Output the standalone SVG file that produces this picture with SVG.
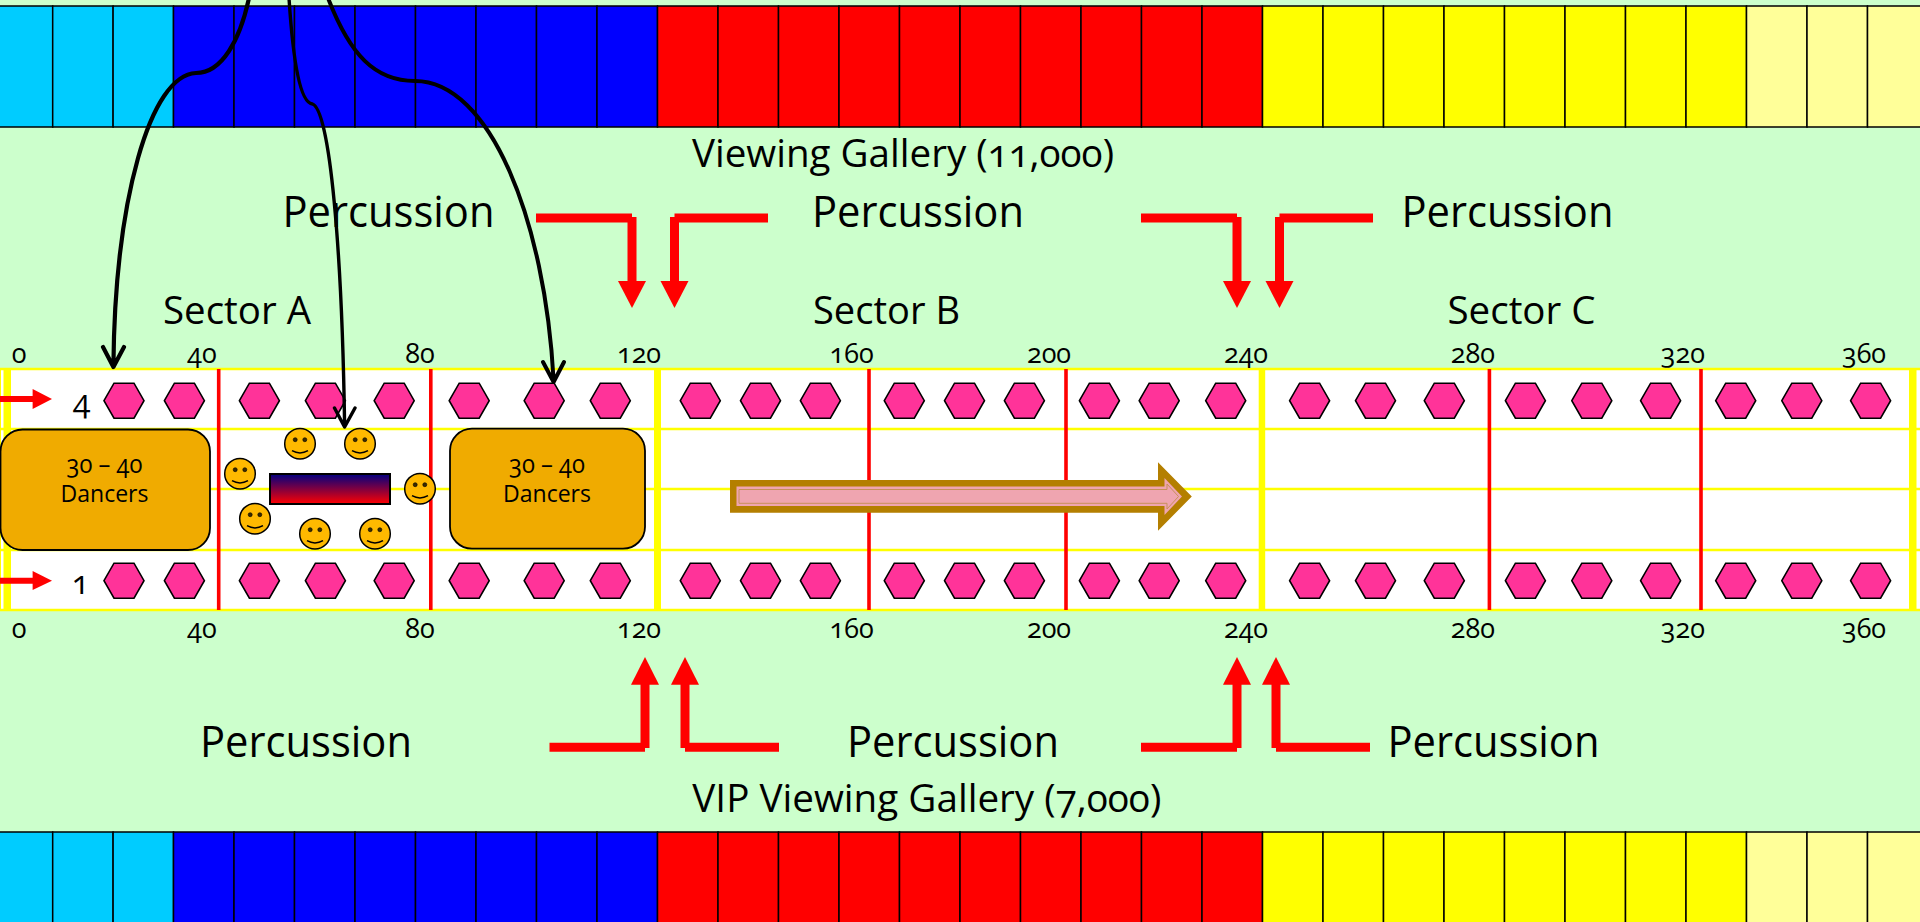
<svg xmlns="http://www.w3.org/2000/svg" width="1920" height="922" viewBox="0 0 1920 922">
<style>
text{font-family:"Open Sans","Noto Sans","Liberation Sans",sans-serif;fill:#000;font-feature-settings:"onum" 1;font-variant-numeric:oldstyle-nums}
.big{font-size:43.5px}.mid{font-size:37.5px}.num{font-size:27px;text-anchor:middle}.dn{font-size:23px;text-anchor:middle}.dg{font-size:25px;text-anchor:middle}.row{font-size:32px;text-anchor:middle}
.cell{stroke:#000;stroke-width:1.5}.c{fill:#00CCFF}.b{fill:#0000FF}.r{fill:#FF0000}.y{fill:#FFFF00}.p{fill:#FFFF99}
.yl{stroke:#FFFF00;stroke-width:2.6;fill:none}.yt{fill:#FFFF00}.rv{stroke:#FF0000;stroke-width:3.6}
.re{stroke:#FF0000;stroke-width:9;fill:none}.rh{fill:#FF0000}
.cv{stroke:#000;fill:none;stroke-linecap:round;stroke-linejoin:round}
.dan{fill:#F0AB00;stroke:#000;stroke-width:1.8}
</style>
<defs>
<polygon id="hex" points="-20,0 -10,-17.5 10,-17.5 20,0 10,17.5 -10,17.5" fill="#FF3399" stroke="#000" stroke-width="1.6"/>
<g id="smile"><circle r="15.3" fill="#FFB900" stroke="#000" stroke-width="1.5"/><circle cx="-4.8" cy="-4" r="2" fill="#3a2a00" stroke="#000" stroke-width=".6"/><circle cx="4.8" cy="-4" r="2" fill="#3a2a00" stroke="#000" stroke-width=".6"/><path d="M-8,7 Q0,11.5 8,7" fill="none" stroke="#000" stroke-width="1.5"/></g>
<linearGradient id="grad" x1="0" y1="0" x2="0" y2="1"><stop offset="0" stop-color="#000080"/><stop offset="1" stop-color="#FF0000"/></linearGradient>
<g id="band">
<rect class="cell c" x="-2" y="0" width="54.7" height="121"/><rect class="cell c" x="52.7" y="0" width="60.4" height="121"/><rect class="cell c" x="113.1" y="0" width="60.4" height="121"/>
<rect class="cell b" x="173.5" y="0" width="60.5" height="121"/><rect class="cell b" x="234" y="0" width="60.5" height="121"/><rect class="cell b" x="294.5" y="0" width="60.5" height="121"/><rect class="cell b" x="355" y="0" width="60.5" height="121"/><rect class="cell b" x="415.5" y="0" width="60.5" height="121"/><rect class="cell b" x="476" y="0" width="60.5" height="121"/><rect class="cell b" x="536.5" y="0" width="60.5" height="121"/><rect class="cell b" x="597" y="0" width="60.5" height="121"/>
<rect class="cell r" x="657.5" y="0" width="60.5" height="121"/><rect class="cell r" x="718" y="0" width="60.5" height="121"/><rect class="cell r" x="778.5" y="0" width="60.5" height="121"/><rect class="cell r" x="839" y="0" width="60.5" height="121"/><rect class="cell r" x="899.5" y="0" width="60.5" height="121"/><rect class="cell r" x="960" y="0" width="60.5" height="121"/><rect class="cell r" x="1020.5" y="0" width="60.5" height="121"/><rect class="cell r" x="1081" y="0" width="60.5" height="121"/><rect class="cell r" x="1141.5" y="0" width="60.5" height="121"/><rect class="cell r" x="1202" y="0" width="60.5" height="121"/>
<rect class="cell y" x="1262.5" y="0" width="60.5" height="121"/><rect class="cell y" x="1323" y="0" width="60.5" height="121"/><rect class="cell y" x="1383.5" y="0" width="60.5" height="121"/><rect class="cell y" x="1444" y="0" width="60.5" height="121"/><rect class="cell y" x="1504.5" y="0" width="60.5" height="121"/><rect class="cell y" x="1565" y="0" width="60.5" height="121"/><rect class="cell y" x="1625.5" y="0" width="60.5" height="121"/><rect class="cell y" x="1686" y="0" width="60.5" height="121"/>
<rect class="cell p" x="1746.5" y="0" width="60.5" height="121"/><rect class="cell p" x="1807" y="0" width="60.5" height="121"/><rect class="cell p" x="1867.5" y="0" width="60.5" height="121"/>
</g>
</defs>
<rect width="1920" height="922" fill="#CCFFCC"/>
<g id="top-seating"><use href="#band" y="6"/></g>
<g id="bottom-seating"><use href="#band" y="832"/></g>
<g id="track">
<rect x="0" y="369" width="1920" height="241" fill="#FFFFFF"/>
<path class="yl" d="M0,369H1920M0,429H1920M0,489H1920M0,550H1920M0,610H1920"/>
<rect class="yt" x="0" y="369" width="1" height="241"/><rect class="yt" x="3.5" y="369" width="7.5" height="241"/>
<rect class="yt" x="654" y="369" width="7" height="241"/><rect class="yt" x="1258.7" y="369" width="6.5" height="241"/><rect class="yt" x="1909" y="369" width="7.5" height="241"/>
<path class="rv" d="M218.7,369V610M430.8,369V610M869,369V610M1066,369V610M1489.4,369V610M1701,369V610"/>
</g>
<g id="scale-labels">
<text class="num" x="19" y="362.5">0</text><text class="num" x="202" y="362.5">40</text><text class="num" x="420" y="362.5">80</text><text class="num" x="639" y="362.5">120</text><text class="num" x="851.6" y="362.5">160</text><text class="num" x="1049" y="362.5">200</text><text class="num" x="1246" y="362.5">240</text><text class="num" x="1472.8" y="362.5">280</text><text class="num" x="1682.8" y="362.5">320</text><text class="num" x="1864" y="362.5">360</text>
<text class="num" x="19" y="638.3">0</text><text class="num" x="202" y="638.3">40</text><text class="num" x="420" y="638.3">80</text><text class="num" x="639" y="638.3">120</text><text class="num" x="851.6" y="638.3">160</text><text class="num" x="1049" y="638.3">200</text><text class="num" x="1246" y="638.3">240</text><text class="num" x="1472.8" y="638.3">280</text><text class="num" x="1682.8" y="638.3">320</text><text class="num" x="1864" y="638.3">360</text>
</g>
<g id="headings">
<text class="mid" x="692" y="166.7" textLength="422" lengthAdjust="spacingAndGlyphs">Viewing Gallery (11,000)</text>
<text class="mid" x="692.3" y="811.7" textLength="469" lengthAdjust="spacingAndGlyphs">VIP Viewing Gallery (7,000)</text>
<text class="mid" x="163" y="324" textLength="148" lengthAdjust="spacingAndGlyphs">Sector A</text>
<text class="mid" x="813" y="324" textLength="147" lengthAdjust="spacingAndGlyphs">Sector B</text>
<text class="mid" x="1447.5" y="324" textLength="148" lengthAdjust="spacingAndGlyphs">Sector C</text>
</g>
<g id="percussion-labels">
<text class="big" x="282.5" y="226.5" textLength="212" lengthAdjust="spacingAndGlyphs">Percussion</text>
<text class="big" x="812" y="226.5" textLength="212" lengthAdjust="spacingAndGlyphs">Percussion</text>
<text class="big" x="1401.5" y="226.5" textLength="212" lengthAdjust="spacingAndGlyphs">Percussion</text>
<text class="big" x="200" y="756.7" textLength="212" lengthAdjust="spacingAndGlyphs">Percussion</text>
<text class="big" x="847" y="756.7" textLength="212" lengthAdjust="spacingAndGlyphs">Percussion</text>
<text class="big" x="1387.5" y="756.7" textLength="212" lengthAdjust="spacingAndGlyphs">Percussion</text>
</g>
<g id="row-labels"><text class="row" x="81.7" y="413">4</text><text class="row" x="80.4" y="594">1</text></g>
<g id="hex-top">
<g id="t1"><use href="#hex" x="124" y="400.7"/></g><g id="t2"><use href="#hex" x="184.4" y="400.7"/></g><g id="t3"><use href="#hex" x="259.4" y="400.7"/></g><g id="t4"><use href="#hex" x="325.4" y="400.7"/></g><g id="t5"><use href="#hex" x="394.2" y="400.7"/></g><g id="t6"><use href="#hex" x="469.2" y="400.7"/></g><g id="t7"><use href="#hex" x="544.2" y="400.7"/></g><g id="t8"><use href="#hex" x="610.3" y="400.7"/></g><g id="t9"><use href="#hex" x="700.3" y="400.7"/></g><g id="t10"><use href="#hex" x="760.5" y="400.7"/></g><g id="t11"><use href="#hex" x="820.4" y="400.7"/></g><g id="t12"><use href="#hex" x="904.3" y="400.7"/></g><g id="t13"><use href="#hex" x="964.5" y="400.7"/></g><g id="t14"><use href="#hex" x="1024.4" y="400.7"/></g><g id="t15"><use href="#hex" x="1099.4" y="400.7"/></g><g id="t16"><use href="#hex" x="1159.2" y="400.7"/></g><g id="t17"><use href="#hex" x="1225.7" y="400.7"/></g><g id="t18"><use href="#hex" x="1309.6" y="400.7"/></g><g id="t19"><use href="#hex" x="1375.5" y="400.7"/></g><g id="t20"><use href="#hex" x="1444.3" y="400.7"/></g><g id="t21"><use href="#hex" x="1525.4" y="400.7"/></g><g id="t22"><use href="#hex" x="1591.8" y="400.7"/></g><g id="t23"><use href="#hex" x="1660.6" y="400.7"/></g><g id="t24"><use href="#hex" x="1735.7" y="400.7"/></g><g id="t25"><use href="#hex" x="1801.8" y="400.7"/></g><g id="t26"><use href="#hex" x="1870.6" y="400.7"/></g>
</g>
<g id="hex-bottom">
<g id="b1"><use href="#hex" x="124" y="580.7"/></g><g id="b2"><use href="#hex" x="184.4" y="580.7"/></g><g id="b3"><use href="#hex" x="259.4" y="580.7"/></g><g id="b4"><use href="#hex" x="325.4" y="580.7"/></g><g id="b5"><use href="#hex" x="394.2" y="580.7"/></g><g id="b6"><use href="#hex" x="469.2" y="580.7"/></g><g id="b7"><use href="#hex" x="544.2" y="580.7"/></g><g id="b8"><use href="#hex" x="610.3" y="580.7"/></g><g id="b9"><use href="#hex" x="700.3" y="580.7"/></g><g id="b10"><use href="#hex" x="760.5" y="580.7"/></g><g id="b11"><use href="#hex" x="820.4" y="580.7"/></g><g id="b12"><use href="#hex" x="904.3" y="580.7"/></g><g id="b13"><use href="#hex" x="964.5" y="580.7"/></g><g id="b14"><use href="#hex" x="1024.4" y="580.7"/></g><g id="b15"><use href="#hex" x="1099.4" y="580.7"/></g><g id="b16"><use href="#hex" x="1159.2" y="580.7"/></g><g id="b17"><use href="#hex" x="1225.7" y="580.7"/></g><g id="b18"><use href="#hex" x="1309.6" y="580.7"/></g><g id="b19"><use href="#hex" x="1375.5" y="580.7"/></g><g id="b20"><use href="#hex" x="1444.3" y="580.7"/></g><g id="b21"><use href="#hex" x="1525.4" y="580.7"/></g><g id="b22"><use href="#hex" x="1591.8" y="580.7"/></g><g id="b23"><use href="#hex" x="1660.6" y="580.7"/></g><g id="b24"><use href="#hex" x="1735.7" y="580.7"/></g><g id="b25"><use href="#hex" x="1801.8" y="580.7"/></g><g id="b26"><use href="#hex" x="1870.6" y="580.7"/></g>
</g>
<g id="dancers-1"><rect class="dan" x="0.5" y="429.5" width="209.5" height="120.5" rx="22"/><text class="dg" x="104.5" y="473" textLength="76" lengthAdjust="spacingAndGlyphs">30 – 40</text><text class="dn" x="104.5" y="501.5" textLength="88" lengthAdjust="spacingAndGlyphs">Dancers</text></g>
<g id="dancers-2"><rect class="dan" x="450" y="428.7" width="195" height="120" rx="22"/><text class="dg" x="547" y="473" textLength="76" lengthAdjust="spacingAndGlyphs">30 – 40</text><text class="dn" x="547" y="501.5" textLength="88" lengthAdjust="spacingAndGlyphs">Dancers</text></g>
<g id="stage"><rect x="270" y="474" width="120" height="30" fill="url(#grad)" stroke="#000" stroke-width="2"/></g>
<g id="smileys">
<use href="#smile" x="300" y="443.7"/><use href="#smile" x="360" y="443.7"/><use href="#smile" x="240" y="473.7"/><use href="#smile" x="420" y="488.7"/><use href="#smile" x="255" y="518.7"/><use href="#smile" x="315" y="533.7"/><use href="#smile" x="375" y="533.7"/>
</g>
<g id="parade-arrow">
<polygon points="730,480 1158,480 1158,462.3 1191.8,496.5 1158,530.7 1158,512.7 730,512.7" fill="#B47F00"/>
<polygon points="736.5,486.5 1164.5,486.5 1164.5,478 1182,496.5 1164.5,515 1164.5,506 736.5,506" fill="#EFA5B0"/>
<polygon points="739,489.5 1167,489.5 1167,484 1178.5,496.5 1167,509 1167,503.3 739,503.3" fill="#EFA5B0" stroke="#C8905A" stroke-width="1"/>
</g>
<g id="connectors">
<path class="re" d="M536,218H632M632,217V282M768,218H674.5M674.5,217V282M1141,218H1237M1237,217V282M1373,218H1279.5M1279.5,217V282"/>
<polygon class="rh" points="618,281 646,281 632,308"/><polygon class="rh" points="660.5,281 688.5,281 674.5,308"/><polygon class="rh" points="1223,281 1251,281 1237,308"/><polygon class="rh" points="1265.5,281 1293.5,281 1279.5,308"/>
<path class="re" d="M549.5,747.3H645M645,748V683M779,747.3H685M685,748V683M1141,747.3H1237M1237,748V683M1370,747.3H1276M1276,748V683"/>
<polygon class="rh" points="631,684.7 659,684.7 645,657"/><polygon class="rh" points="671,684.7 699,684.7 685,657"/><polygon class="rh" points="1223,684.7 1251,684.7 1237,657"/><polygon class="rh" points="1262,684.7 1290,684.7 1276,657"/>
<path d="M0,399H34M0,580.7H34" stroke="#FF0000" stroke-width="6" fill="none"/>
<polygon class="rh" points="32.6,389 52,399 32.6,409"/><polygon class="rh" points="32.6,571 52,580.7 32.6,590"/>
<path class="cv" stroke-width="4.2" d="M249,-2C240,40 222,73 196,73C150,75 115,200 113.4,366M103,347L113.4,367L124,347"/>
<path class="cv" stroke-width="3.4" d="M289,-2C293,60 300,103 312.5,104C330,110 342,250 344.6,425M334.5,408L344.6,427L355,408"/>
<path class="cv" stroke-width="4" d="M328,-2C350,55 375,81 415,81C490,81 545,220 553.6,380M543,362L553.6,382L564,362"/>
</g>
</svg>
